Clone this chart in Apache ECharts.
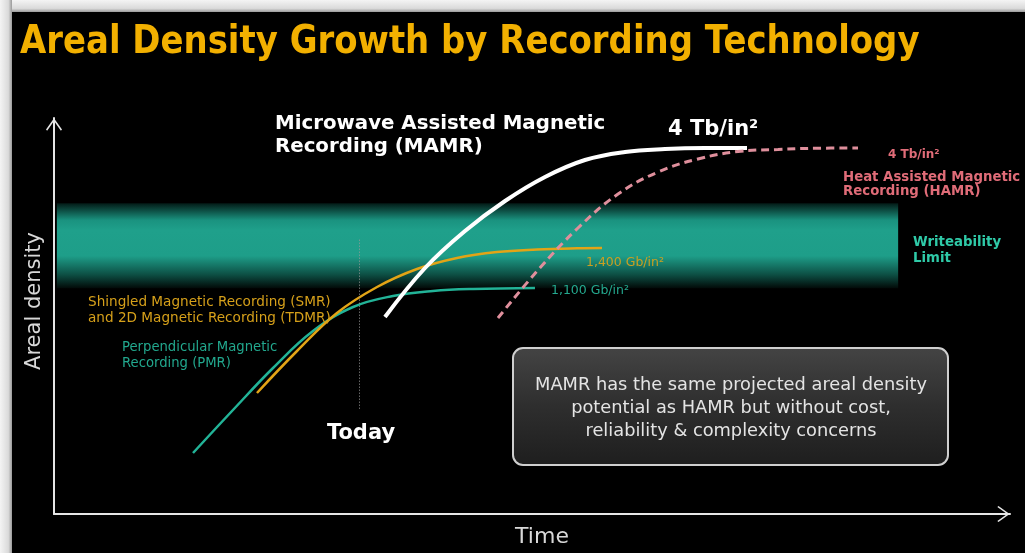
<!DOCTYPE html>
<html>
<head>
<meta charset="utf-8">
<title>Areal Density Growth by Recording Technology</title>
<script src="https://cdn.jsdelivr.net/npm/echarts@6/dist/echarts.min.js"></script>
<style>
  html, body { margin: 0; padding: 0; background: #000; }
  #chart { width: 1025px; height: 553px; }
</style>
</head>
<body>
<div id="chart"></div>
<script>
// Relative time (0-100) and relative areal density (0-100) for each technology curve
const pmrCurve = [[14.54, 15.40], [18.72, 26.26], [22.91, 36.87], [27.09, 46.21], [31.28, 52.27],
                  [35.46, 55.05], [39.64, 56.31], [43.83, 56.82], [50.31, 57.07]];
const smrCurve = [[21.23, 30.56], [25.42, 41.16], [29.60, 50.76], [33.79, 57.32], [37.97, 61.87],
                  [42.15, 64.65], [46.34, 66.16], [50.52, 66.79], [54.71, 67.10], [57.32, 67.17]];
const mamrCurve = [[34.62, 49.75], [38.81, 62.12], [42.99, 71.46], [47.18, 79.04], [51.36, 85.10],
                   [55.54, 89.39], [59.73, 91.41], [63.91, 92.17], [68.10, 92.42], [72.49, 92.42]];
const hamrCurve = [[46.44, 49.49], [50.63, 61.62], [54.81, 72.22], [59.00, 80.81], [63.18, 86.36],
                   [67.36, 89.65], [71.55, 91.54], [75.73, 92.05], [79.92, 92.37], [84.10, 92.42]];

// Writeability limit band (time span and density span) and the "Today" marker
const writeabilityTime = [0.3, 88.3];
const writeabilityDensity = [57.0, 78.5];
const todayTime = 31.9;
const todaySpan = [26.6, 69.6];

// Capacity labels at the end of each curve
const pmrCapacity = '1,100 Gb/in\u00B2';
const smrCapacity = '1,400 Gb/in\u00B2';
const mamrCapacity = '4 Tb/in\u00B2';
const hamrCapacity = '4 Tb/in\u00B2';

const FONT = "'DejaVu Sans', Verdana, sans-serif";
const ARROW = 'path://M0,14 L10,0 L20,14 L18.6,15.4 L10,3.2 L1.4,15.4 Z';

function txt(x, y, text, size, color, opts) {
  opts = opts || {};
  return {
    type: 'text', x: x, y: y, z: 20,
    rotation: opts.rotation || 0,
    scaleX: opts.scaleX || 1,
    style: {
      text: text,
      fill: color,
      font: (opts.bold ? 'bold ' : '') + size + 'px ' + (opts.family || FONT),
      align: opts.align || 'left', textAlign: opts.align || 'left',
      verticalAlign: 'middle', textVerticalAlign: 'middle',
      lineHeight: opts.lineHeight || size * 1.2
    }
  };
}

const chart = echarts.init(document.getElementById('chart'), null, { renderer: 'canvas' });

const curveBase = { type: 'line', smooth: 0.4, showSymbol: false };

const option = {
  backgroundColor: '#000',
  animation: false,
  grid: { left: 54, right: 15, top: 118, bottom: 39 },
  xAxis: {
    type: 'value', min: 0, max: 100,
    axisLine: { show: true, symbol: ['none', ARROW], symbolSize: [16, 13], symbolOffset: [0, -6.5],
                lineStyle: { color: '#e6e6e6', width: 2 } },
    axisTick: { show: false }, axisLabel: { show: false }, splitLine: { show: false }
  },
  yAxis: {
    type: 'value', min: 0, max: 100,
    axisLine: { show: true, symbol: ['none', ARROW], symbolSize: [16, 13], symbolOffset: [0, -6.5],
                lineStyle: { color: '#e6e6e6', width: 2 } },
    axisTick: { show: false }, axisLabel: { show: false }, splitLine: { show: false }
  },
  series: [
    {
      name: 'Writeability Limit', type: 'line', data: [], z: 1,
      markArea: {
        silent: true,
        itemStyle: {
          color: new echarts.graphic.LinearGradient(0, 0, 0, 1, [
            { offset: 0, color: '#031a16' },
            { offset: 0.2, color: '#1a927f' },
            { offset: 0.32, color: '#1fa08b' },
            { offset: 0.62, color: '#1e9e89' },
            { offset: 0.84, color: '#0d4f44' },
            { offset: 1, color: '#020a08' }
          ])
        },
        data: [[{ coord: [writeabilityTime[0], writeabilityDensity[1]] },
                { coord: [writeabilityTime[1], writeabilityDensity[0]] }]]
      },
      markLine: {
        silent: true, symbol: 'none', label: { show: false },
        lineStyle: { color: '#9a9a9a', type: [1, 2], width: 1 },
        data: [[{ coord: [todayTime, todaySpan[0]] }, { coord: [todayTime, todaySpan[1]] }]]
      }
    },
    Object.assign({}, curveBase, {
      name: 'PMR', data: pmrCurve, z: 3,
      lineStyle: { color: '#22b397', width: 2.5 },
      endLabel: { show: true, formatter: pmrCapacity, color: '#24a98f', fontSize: 12.5, fontFamily: FONT,
                  offset: [8, 3] }
    }),
    Object.assign({}, curveBase, {
      name: 'SMR', data: smrCurve, z: 3,
      lineStyle: { color: '#e2a416', width: 2.5 },
      endLabel: { show: true, formatter: smrCapacity, color: '#c9a022', fontSize: 12.5, fontFamily: FONT,
                  offset: [-24, 15] }
    }),
    Object.assign({}, curveBase, {
      name: 'MAMR', data: mamrCurve, z: 4,
      lineStyle: { color: '#ffffff', width: 4 },
      endLabel: { show: true, formatter: mamrCapacity, color: '#ffffff', fontSize: 21, fontWeight: 'bold',
                  fontFamily: FONT, offset: [-87, -18] }
    }),
    Object.assign({}, curveBase, {
      name: 'HAMR', data: hamrCurve, z: 5,
      lineStyle: { color: '#df8f9c', width: 3, type: [8, 5] },
      endLabel: { show: true, formatter: hamrCapacity, color: '#e06c78', fontSize: 12, fontWeight: 'bold',
                  fontFamily: FONT, offset: [22, 7] }
    })
  ],
  graphic: [
    // slide frame edges
    { type: 'rect', z: 30, shape: { x: 0, y: 0, width: 1025, height: 12 },
      style: { fill: new echarts.graphic.LinearGradient(0, 0, 0, 1, [
        { offset: 0, color: '#f4f4f4' }, { offset: 0.7, color: '#dadada' }, { offset: 1, color: '#9a9a9a' }]) } },
    { type: 'rect', z: 30, shape: { x: 0, y: 0, width: 12, height: 553 },
      style: { fill: new echarts.graphic.LinearGradient(0, 0, 1, 0, [
        { offset: 0, color: '#f4f4f4' }, { offset: 0.7, color: '#dadada' }, { offset: 1, color: '#9a9a9a' }]) } },

    txt(20, 43, 'Areal Density Growth by Recording Technology', 39, '#f2b000', { bold: true, scaleX: 0.87 }),

    txt(35, 301, 'Areal density', 21, '#d8d8d8', { align: 'center', rotation: Math.PI / 2 }),
    txt(542, 537, 'Time', 22, '#d8d8d8', { align: 'center' }),

    txt(275, 124, 'Microwave Assisted Magnetic', 19.8, '#ffffff', { bold: true }),
    txt(275, 147, 'Recording (MAMR)', 19.8, '#ffffff', { bold: true }),

    txt(843, 178, 'Heat Assisted Magnetic', 13.3, '#e06c78', { bold: true }),
    txt(843, 192, 'Recording (HAMR)', 13.3, '#e06c78', { bold: true }),

    txt(913, 243, 'Writeability', 13.3, '#2fcaa8', { bold: true }),
    txt(913, 259, 'Limit', 13.3, '#2fcaa8', { bold: true }),

    txt(88, 302, 'Shingled Magnetic Recording (SMR)', 13.6, '#d6a01a'),
    txt(88, 318, 'and 2D Magnetic Recording (TDMR)', 13.6, '#d6a01a'),

    txt(122, 348, 'Perpendicular Magnetic', 13.2, '#22a88e'),
    txt(122, 364, 'Recording (PMR)', 13.2, '#22a88e'),

    txt(361, 434, 'Today', 21, '#ffffff', { bold: true, align: 'center' }),

    { type: 'rect', z: 15, shape: { x: 513, y: 348, width: 435, height: 117, r: 10 },
      style: { fill: new echarts.graphic.LinearGradient(0, 0, 0, 1, [
        { offset: 0, color: '#444444' }, { offset: 0.5, color: '#2e2e2e' }, { offset: 1, color: '#1e1e1e' }]),
        stroke: '#cfcfcf', lineWidth: 2 } },
    txt(731, 385, 'MAMR has the same projected areal density', 17.8, '#e4e4e4', { align: 'center' }),
    txt(731, 408, 'potential as HAMR but without cost,', 17.8, '#e4e4e4', { align: 'center' }),
    txt(731, 431, 'reliability & complexity concerns', 17.8, '#e4e4e4', { align: 'center' })
  ]
};

chart.setOption(option);
</script>
</body>
</html>
